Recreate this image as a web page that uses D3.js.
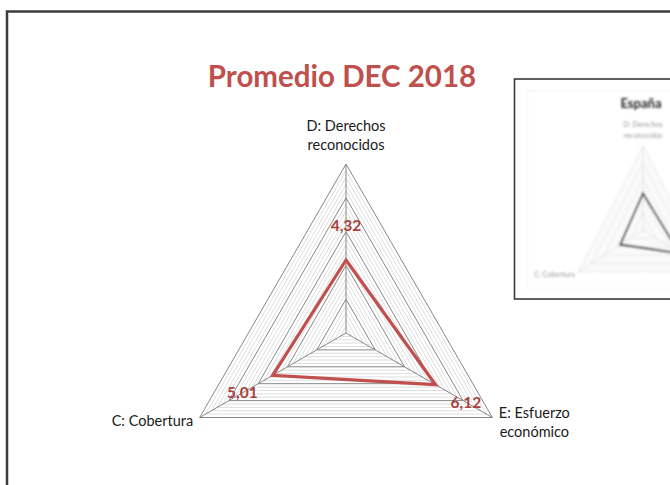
<!DOCTYPE html>
<html>
<head>
<meta charset="utf-8">
<script src="https://cdn.jsdelivr.net/npm/d3@7"></script>
<style>
	body { margin: 0; background: #fff; }
	svg { display: block; font-family: Lato, 'Open Sans', sans-serif; }
</style>
</head>
<body>
<svg id="chart-svg" width="670" height="485"></svg>
<script>
// Radar chart "Promedio DEC 2018" + small pasted picture of the "España" chart

const titleText = 'Promedio DEC 2018';
const categories = ['D: Derechos reconocidos', 'E: Esfuerzo económico', 'C: Cobertura'];
const categoryLines = [['D: Derechos', 'reconocidos'], ['E: Esfuerzo', 'económico'], ['C: Cobertura']];
const promedioValues = [4.32, 6.12, 5.01];

const insetTitle = 'España';
const insetLabelLines = [['D: Derechos', 'reconocidos'], [], ['C: Cobertura']];
const espanaValues = [4.4, 5.6, 3.5]; // rough

const axisMax = 10;
const majorStep = 2;
const minorStep = 0.4;

const svg = d3.select('#chart-svg');

// spanish decimal comma
const esLocale = d3.formatLocale({ decimal: ',', thousands: '.', grouping: [3], currency: ['', ' €'] });
const fmt = esLocale.format('.2f');

// outer frame (goes past right / bottom edge)
svg.append('rect')
	.attr('x', 7).attr('y', 11.5)
	.attr('width', 700).attr('height', 500)
	.attr('fill', 'none')
	.attr('stroke', '#3c3c3c')
	.attr('stroke-width', 2.5);

// title
svg.append('text')
	.attr('x', 342).attr('y', 87)
	.attr('text-anchor', 'middle')
	.attr('font-size', 29.5)
	.attr('font-weight', 'bold')
	.attr('fill', '#c0504d')
	.text(titleText);

// angle for category i, D on top then clockwise
const angleScale = d3.scaleLinear().domain([0, categories.length]).range([-Math.PI / 2, 1.5 * Math.PI]);

function drawRadar(g, cfg) {
	const r = d3.scaleLinear().domain([0, axisMax]).range([0, cfg.radius]);
	const pt = (i, v) => [Math.cos(angleScale(i)) * r(v), Math.sin(angleScale(i)) * r(v)];
	const ring = (v) => d3.range(categories.length).map((i) => pt(i, v));
	const line = d3.line().curve(d3.curveLinearClosed);

	const minorLevels = d3.range(minorStep, axisMax + 1e-9, minorStep)
		.filter((v) => Math.abs(v / majorStep - Math.round(v / majorStep)) > 1e-6);
	const majorLevels = d3.range(majorStep, axisMax + 1e-9, majorStep);

	g.selectAll('path.minor')
		.data(minorLevels)
		.enter()
		.append('path')
		.attr('class', 'minor')
		.attr('d', (v) => line(ring(v)))
		.attr('fill', 'none')
		.attr('stroke', cfg.minorColor)
		.attr('stroke-width', cfg.minorWidth);

	g.selectAll('path.major')
		.data(majorLevels)
		.enter()
		.append('path')
		.attr('class', 'major')
		.attr('d', (v) => line(ring(v)))
		.attr('fill', 'none')
		.attr('stroke', cfg.majorColor)
		.attr('stroke-width', cfg.majorWidth)
		.attr('stroke-dasharray', cfg.dash);

	// spokes
	g.selectAll('line.spoke')
		.data(categories)
		.enter()
		.append('line')
		.attr('class', 'spoke')
		.attr('x1', 0).attr('y1', 0)
		.attr('x2', (d, i) => pt(i, axisMax)[0])
		.attr('y2', (d, i) => pt(i, axisMax)[1])
		.attr('stroke', cfg.majorColor)
		.attr('stroke-width', cfg.majorWidth)
		.attr('stroke-dasharray', cfg.dash);

	// series
	g.append('path')
		.attr('d', line(cfg.values.map((v, i) => pt(i, v))))
		.attr('fill', 'none')
		.attr('stroke', cfg.seriesColor)
		.attr('stroke-width', cfg.seriesWidth)
		.attr('stroke-linejoin', 'miter');

	return { r, pt };
}

// main radar
const mainG = svg.append('g').attr('transform', 'translate(346,333)');
const main = drawRadar(mainG, {
	radius: 169,
	values: promedioValues,
	minorColor: '#d6d6d6',
	minorWidth: 0.8,
	majorColor: '#878787',
	majorWidth: 1,
	dash: null,
	seriesColor: '#c0504d',
	seriesWidth: 3.2
});

// value labels, pushed outward along the axis
mainG.selectAll('text.value')
	.data(promedioValues)
	.enter()
	.append('text')
	.attr('class', 'value')
	.attr('x', (d, i) => main.pt(i, d)[0] + Math.cos(angleScale(i)) * 35)
	.attr('y', (d, i) => main.pt(i, d)[1] + Math.sin(angleScale(i)) * 35)
	.attr('dy', '0.36em')
	.attr('text-anchor', 'middle')
	.attr('font-size', 15.5)
	.attr('font-weight', 'bold')
	.attr('fill', '#a8413d')
	.text((d) => fmt(d));

// category labels
function addCategoryLabels(g, pt, lines, opts) {
	lines.forEach((ls, i) => {
		if (!ls.length) return;
		const [vx, vy] = pt(i, axisMax);
		const t = g.append('text')
			.attr('font-size', opts.size)
			.attr('fill', opts.color)
			.attr('text-anchor', 'middle');
		ls.forEach((s, k) => t.append('tspan').attr('x', 0).attr('dy', k ? opts.lineH : 0).text(s));
		const w = d3.max(t.selectAll('tspan').nodes(), (n) => n.getComputedTextLength());
		const a = angleScale(i);
		let x = vx, y = vy;
		if (Math.abs(Math.cos(a)) < 0.1) {
			// top
			y = vy - opts.gapTop - (ls.length - 1) * opts.lineH;
		} else if (Math.cos(a) > 0) {
			x = vx + opts.gapSide + w / 2;
			y = vy + opts.sideDy;
		} else {
			x = vx - opts.gapSide - w / 2;
			y = vy + opts.sideDy + 8;
		}
		t.attr('transform', 'translate(' + x + ',' + y + ')');
	});
}

addCategoryLabels(mainG, main.pt, categoryLines, {
	size: 14.5, color: '#1a1a1a', lineH: 19, gapTop: 14, gapSide: 6.5, sideDy: 0
});

// ----- inset: blurred picture of the España chart -----
const defs = svg.append('defs');
defs.append('filter').attr('id', 'soft')
	.append('feGaussianBlur').attr('stdDeviation', 0.8);

const insetG = svg.append('g');
insetG.append('rect')
	.attr('x', 514.5).attr('y', 79)
	.attr('width', 200).attr('height', 220)
	.attr('fill', '#fff')
	.attr('stroke', '#3a3a3a')
	.attr('stroke-width', 1.6);

const insetInner = insetG.append('g').attr('filter', 'url(#soft)');
insetInner.append('rect')
	.attr('x', 527).attr('y', 91)
	.attr('width', 200).attr('height', 198)
	.attr('fill', 'none')
	.attr('stroke', '#f3f3f3');

insetInner.append('text')
	.attr('x', 641).attr('y', 108)
	.attr('text-anchor', 'middle')
	.attr('font-size', 13)
	.attr('font-weight', 'bold')
	.attr('fill', '#262626')
	.text(insetTitle);

const miniG = insetInner.append('g').attr('transform', 'translate(643,230) scale(0.85,0.95)');
const mini = drawRadar(miniG, {
	radius: 88,
	values: espanaValues,
	minorColor: '#f0f0f0',
	minorWidth: 0.7,
	majorColor: '#c4c4c4',
	majorWidth: 0.9,
	dash: '1.5,1.5',
	seriesColor: '#555',
	seriesWidth: 2.2
});

addCategoryLabels(miniG, mini.pt, insetLabelLines, {
	size: 8.5, color: '#9a9a9a', lineH: 11, gapTop: 9, gapSide: 4, sideDy: -3
});
</script>
</body>
</html>
